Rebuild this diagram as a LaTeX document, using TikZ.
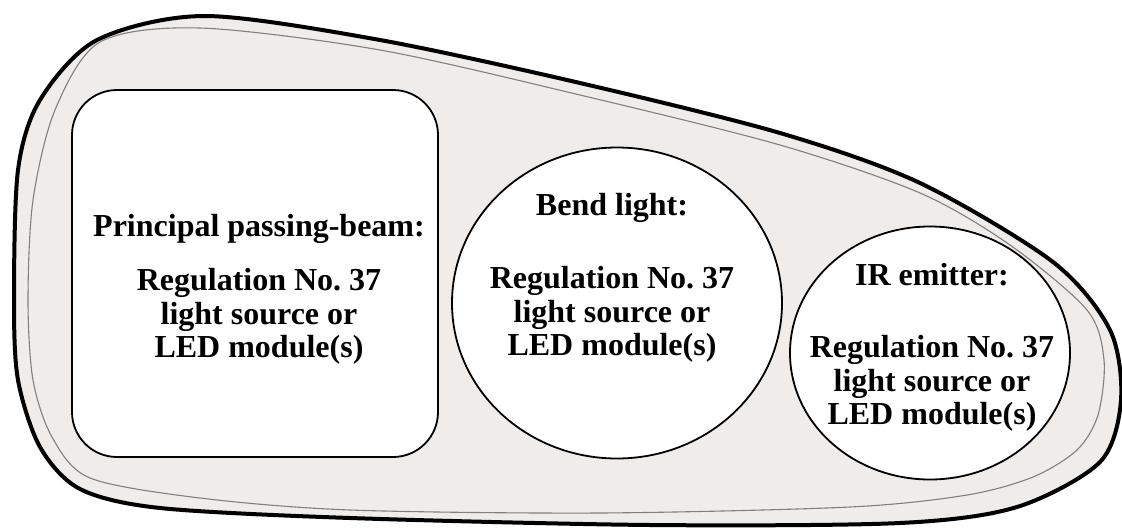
\documentclass[tikz,border=0pt]{standalone}
\usepackage{fontspec}
\setmainfont{Liberation Serif}
\usetikzlibrary{shapes.geometric}
\definecolor{housing}{RGB}{239,236,234}
\frenchspacing

\begin{document}
\begin{tikzpicture}[x=1pt,y=-1pt,
	lamp/.style={draw=black, fill=white, line width=1.8pt, inner sep=0pt},
	lamptext/.style={font=\fontsize{32}{33.5}\selectfont\bfseries, align=center, anchor=north, inner sep=0pt}]
				\useasboundingbox (0,0) rectangle (1122,530);
				% housing outline
				\filldraw[fill=housing, line width=4pt] plot[smooth cycle] coordinates {(14,300) (18,170) (40,100) (97,40) (205,16) (380,40) (580,83) (780,133) (920,183) (1053,262) (1110,330) (1121,400) (1100,462) (1017,507) (900,523) (650,525) (350,518) (160,508) (80,489) (40,447) (18,380)};
				\draw[gray, line width=1.1pt] plot[smooth cycle] coordinates {(28,300) (33,200) (55,110) (100,42) (200,28) (380,50) (580,95) (780,145) (920,193) (1010,245) (1087,310) (1104,360) (1098,415) (1077,450) (1033,477) (967,495) (850,507) (600,513) (350,510) (200,498) (90,478) (52,437) (33,380)};
				% light units
				\node[lamp, rectangle, rounded corners=45pt, minimum width=366pt, minimum height=367pt] (passing) at (255,273.5) {};
				\node[lamp, ellipse, minimum width=330pt, minimum height=311pt] (bend) at (617,303) {};
				\node[lamp, ellipse, minimum width=280pt, minimum height=253pt] (ir) at (930,353) {};
				% labels
				\node[lamptext] (passingtext) at (259,214) {Principal passing-beam:\\[21pt]Regulation No. 37\\light source or\\LED module(s)};
				\node[lamptext] (bendtext) at (612,193) {Bend light:\\[40pt]Regulation No. 37\\light source or\\LED module(s)};
				\node[lamptext] (irtext) at (932,263) {IR emitter:\\[39pt]Regulation No. 37\\light source or\\LED module(s)};
\end{tikzpicture}
\end{document}
